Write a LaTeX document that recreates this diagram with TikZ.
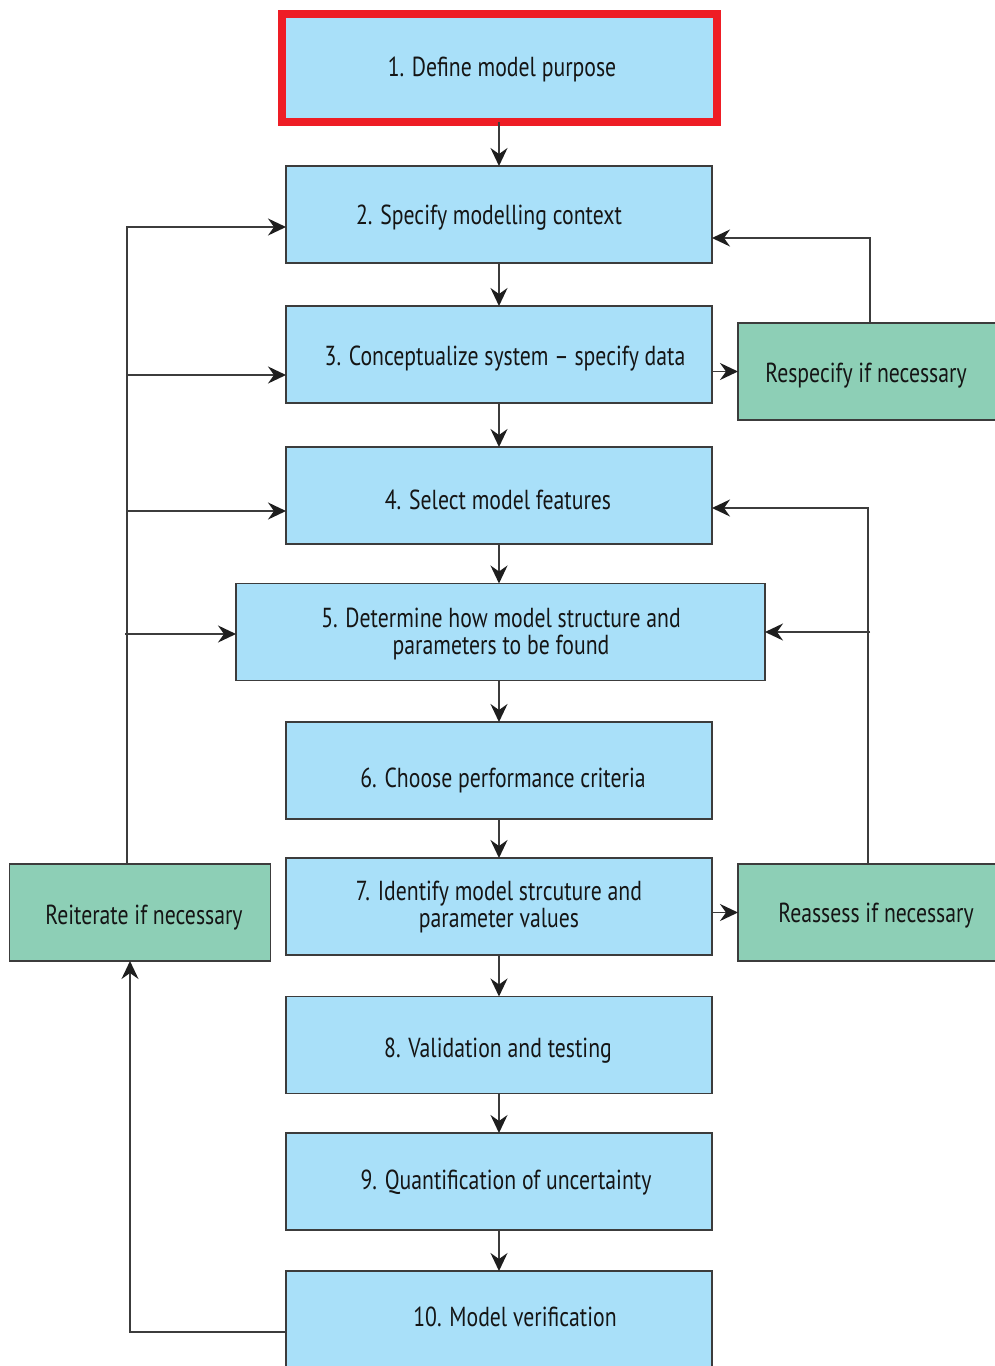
\documentclass[tikz,border=0pt]{standalone}
\usepackage{fontspec}
\setmainfont{PT Sans}[FakeStretch=0.79]
\usetikzlibrary{arrows.meta}
\definecolor{stepblue}{HTML}{A9E0F9}
\definecolor{notegreen}{HTML}{8DCFB6}
\definecolor{framered}{HTML}{EE1D25}
\definecolor{edgegray}{HTML}{3C3C3C}
\definecolor{tipdark}{HTML}{1E1E1E}
\definecolor{inkdark}{HTML}{151515}
\tikzset{
  stepbox/.style={draw=edgegray, line width=1.6pt, fill=stepblue, inner sep=0pt, outer sep=0pt,
    minimum width=426pt, minimum height=97pt},
  notebox/.style={draw=edgegray, line width=1.6pt, fill=notegreen, inner sep=0pt, outer sep=0pt,
    minimum width=261pt, minimum height=97pt},
  lbl/.style={text=inkdark, font=\fontsize{27.5}{27}\selectfont, align=center, inner sep=0pt},
  conn/.style={draw=edgegray, line width=1.8pt},
  arr/.style={conn, -{Stealth[length=18pt, width=17pt, inset=6pt, color=tipdark]}},
}
\begin{document}
\begin{tikzpicture}[x=1pt, y=-1pt]
\useasboundingbox (0,0) rectangle (995,1366);
\clip (0,0) rectangle (995,1366);
\fill[white] (0,0) rectangle (995,1366);

% main chain of steps
\node[stepbox, draw=framered, line width=7.5pt, minimum width=435pt, minimum height=108pt] (b1) at (499.5,68) {};
\node[stepbox] (b2) at (499,214.5) {};
\node[stepbox] (b3) at (499,354.5) {};
\node[stepbox] (b4) at (499,495.5) {};
\node[stepbox, minimum width=529pt] (b5) at (500.5,632) {};
\node[stepbox] (b6) at (499,770.5) {};
\node[stepbox] (b7) at (499,906.5) {};
\node[stepbox] (b8) at (499,1045) {};
\node[stepbox] (b9) at (499,1181.5) {};
\node[stepbox] (b10) at (499,1319.5) {};

% feedback boxes
\node[notebox, minimum width=262pt] (resp) at (869,371.5) {};
\node[notebox] (reit) at (140,912.5) {};
\node[notebox, minimum width=262pt] (reas) at (869,912.5) {};

% labels
\node[lbl] (t1) at (502,69) {1. Define model purpose};
\node[lbl] (t2) at (489,218) {2. Specify modelling context};
\node[lbl] (t3) at (505,359) {3. Conceptualize system -- specify data};
\node[lbl] (t4) at (498,500) {4. Select model features};
\node[lbl] (t5) at (501,634) {5. Determine how model structure and\\parameters to be found};
\node[lbl] (t6) at (503,780) {6. Choose performance criteria};
\node[lbl] (t7) at (499,907) {7. Identify model strcuture and\\parameter values};
\node[lbl] (t8) at (498,1051) {8. Validation and testing};
\node[lbl] (t9) at (506,1183) {9. Quantification of uncertainty};
\node[lbl] (t10) at (515,1317) {10. Model verification};
\node[lbl] (tr1) at (866,376) {Respecify if necessary};
\node[lbl] (tr2) at (144,918) {Reiterate if necessary};
\node[lbl] (tr3) at (876,916) {Reassess if necessary};

% downward flow
\draw[arr] (b1.south -| b2.north) -- (b2.north);
\draw[arr] (b2.south) -- (b3.north);
\draw[arr] (b3.south) -- (b4.north);
\draw[arr] (b4.south) -- (b4.south |- b5.north);
\draw[arr] (b4.south |- b5.south) -- (b6.north);
\draw[arr] (b6.south) -- (b7.north);
\draw[arr] (b7.south) -- (b8.north);
\draw[arr] (b8.south) -- (b9.north);
\draw[arr] (b9.south) -- (b10.north);

% respecify loop
\draw[arr] (b3.east |- resp.west) -- (resp.west);
\draw[arr] ([xshift=1pt]resp.north) |- ([yshift=-23.5pt]b2.east);

% reassess loop
\coordinate (rx) at (868,0);
\draw[arr] (b7.east |- reas.west) -- (reas.west);
\draw[arr] (reas.north -| rx) |- ([yshift=-12.5pt]b4.east);
\draw[arr] ([xshift=2pt]rx |- b5.east) -- (b5.east);

% reiterate loop
\coordinate (lx) at (127,0);
\coordinate (lb) at (130,0);
\draw[arr] (reit.north -| lx) |- ([yshift=-12.5pt]b2.west);
\draw[arr] ([yshift=-20.5pt]b3.west -| lx) -- ([yshift=-20.5pt]b3.west);
\draw[arr] ([yshift=-15.5pt]b4.west -| lx) -- ([yshift=-15.5pt]b4.west);
\draw[arr] ([yshift=-2pt,xshift=-2pt]b5.west -| lx) -- ([yshift=-2pt]b5.west);
\draw[arr] ([yshift=-12.5pt]b10.west) -| (reit.south -| lb);
\end{tikzpicture}
\end{document}
